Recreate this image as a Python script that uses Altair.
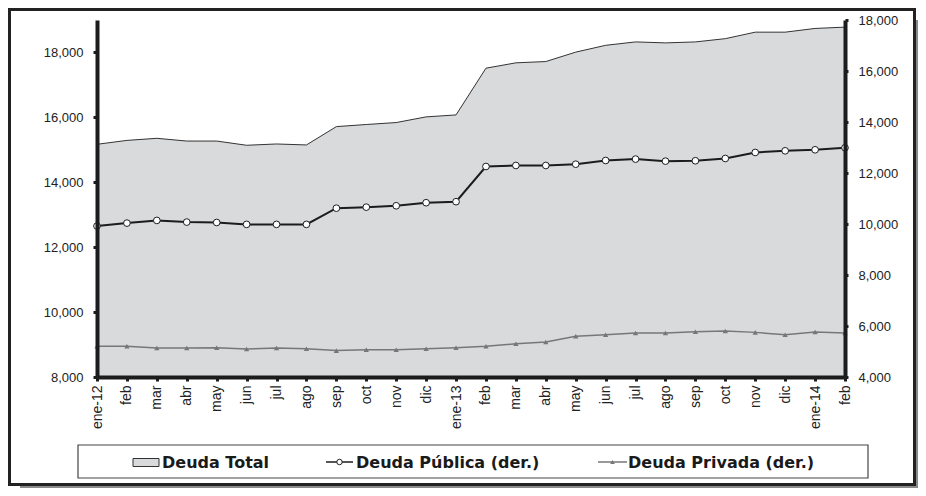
import json
import altair as alt
import pandas as pd

# ---- data ----
labels = ["ene-12", "feb", "mar", "abr", "may", "jun", "jul", "ago", "sep", "oct", "nov", "dic",
          "ene-13", "feb", "mar", "abr", "may", "jun", "jul", "ago", "sep", "oct", "nov", "dic",
          "ene-14", "feb"]
deuda_total = [15170, 15290, 15355, 15270, 15270, 15140, 15180, 15150, 15715, 15780, 15840, 16015,
               16075, 17515, 17680, 17720, 18010, 18220, 18325, 18295, 18325, 18425, 18625, 18625,
               18740, 18780]
deuda_publica = [9920, 10035, 10140, 10075, 10060, 9985, 9985, 9985, 10620, 10660, 10715, 10835,
                 10875, 12255, 12295, 12295, 12345, 12490, 12545, 12465, 12480, 12570, 12805, 12870,
                 12910, 12990]
deuda_privada = [5205, 5205, 5135, 5135, 5150, 5100, 5135, 5110, 5035, 5070, 5070, 5110,
                 5150, 5205, 5305, 5370, 5595, 5660, 5725, 5725, 5775, 5805, 5750, 5660,
                 5765, 5725]
legend_labels = ["Deuda Total", "Deuda Pública (der.)", "Deuda Privada (der.)"]
left_ticks = [8000, 10000, 12000, 14000, 16000, 18000]
right_ticks = [4000, 6000, 8000, 10000, 12000, 14000, 16000, 18000]

df = pd.DataFrame({
    "i": list(range(len(labels))),
    "total": deuda_total,
    "publica": deuda_publica,
    "privada": deuda_privada,
})

DARK = "#1c1c1c"
GRAY = "#777777"
AREA = "#d9dadc"
LABEL_FONT = "Liberation Sans, Arial, sans-serif"
XLABEL_FONT = "Liberation Sans Narrow, Arial Narrow, Liberation Sans, sans-serif"
LEGEND_FONT = "DejaVu Sans"

label_expr = json.dumps(labels) + "[datum.value]"


def x_enc():
    return alt.X(
        "i:Q",
        scale=alt.Scale(domain=[0, len(labels) - 1], nice=False, zero=False),
        axis=alt.Axis(
            values=list(range(len(labels))), labelExpr=label_expr, labelAngle=-90,
            title=None, grid=False, domainWidth=4, domainColor=DARK, tickColor=DARK,
            tickWidth=3, tickSize=4, labelFont=XLABEL_FONT, labelFontSize=14,
            labelColor="#222222", labelPadding=4, labelOverlap=False, orient="bottom",
            zindex=1,
        ),
    )


base = alt.Chart(df)

area = base.mark_area(color=AREA, opacity=1, clip=True,
                      line={"color": "#333333", "strokeWidth": 1}).encode(
    x=x_enc(),
    y=alt.Y("total:Q", scale=alt.Scale(domain=[8000, 19000], nice=False, zero=False),
            axis=alt.Axis(orient="left", values=left_ticks, format=",d", title=None, grid=False,
                          domainWidth=4, domainColor=DARK, tickColor=DARK, tickWidth=3, tickSize=4,
                          labelFont=LABEL_FONT, labelFontSize=13, labelColor="#222222",
                          labelPadding=10, zindex=1)),
)

right_scale = alt.Scale(domain=[4000, 18000], nice=False, zero=False)

privada = base.mark_line(
    color=GRAY, strokeWidth=1.5,
    point=alt.OverlayMarkDef(shape="triangle-up", size=28, filled=True, color=GRAY),
).encode(
    x=x_enc(),
    y=alt.Y("privada:Q", scale=right_scale, axis=None),
)

publica = base.mark_line(
    color=DARK, strokeWidth=2,
    point=alt.OverlayMarkDef(shape="circle", size=45, filled=True, fill="white", stroke=DARK,
                             strokeWidth=1),
).encode(
    x=x_enc(),
    y=alt.Y("publica:Q", scale=right_scale,
            axis=alt.Axis(orient="right", values=right_ticks, format=",d", title=None, grid=False,
                          domainWidth=4, domainColor=DARK, tickColor=DARK, tickWidth=3, tickSize=3,
                          labelFont=LABEL_FONT, labelFontSize=13, labelColor="#222222",
                          labelPadding=10, zindex=1)),
)

one = alt.Chart(pd.DataFrame({"k": [0]}))

# outer frame and shadow
frame = one.mark_rect(fillOpacity=0, stroke="#222222", strokeWidth=3).encode(
    x=alt.value(-87.5), x2=alt.value(817.5), y=alt.value(-10.5), y2=alt.value(464.5))
shadow_r = one.mark_rect(color="#8a8a8a").encode(
    x=alt.value(819), x2=alt.value(821), y=alt.value(0), y2=alt.value(468))
shadow_b = one.mark_rect(color="#8a8a8a").encode(
    x=alt.value(-77), x2=alt.value(821), y=alt.value(466), y2=alt.value(468))

# legend
leg_box = one.mark_rect(fill="white", stroke="#444444", strokeWidth=1.2).encode(
    x=alt.value(-19), x2=alt.value(771), y=alt.value(425), y2=alt.value(458))
leg_sym_total = one.mark_rect(fill=AREA, stroke="#333333", strokeWidth=1).encode(
    x=alt.value(36), x2=alt.value(62), y=alt.value(438.5), y2=alt.value(446.5))
leg_line_pub = one.mark_rule(color=DARK, strokeWidth=1.5).encode(
    x=alt.value(229), x2=alt.value(256), y=alt.value(442))
leg_pt_pub = one.mark_point(shape="circle", size=30, filled=True, fill="white", stroke=DARK,
                            strokeWidth=1, opacity=1).encode(x=alt.value(242.5), y=alt.value(442))
leg_line_priv = one.mark_rule(color=GRAY, strokeWidth=1.5).encode(
    x=alt.value(501), x2=alt.value(530), y=alt.value(442))
leg_pt_priv = one.mark_point(shape="triangle-up", size=22, filled=True, color=GRAY,
                             opacity=1).encode(x=alt.value(515.5), y=alt.value(442))

leg_texts = []
for lab, xpos in zip(legend_labels, [65, 259, 531]):
    leg_texts.append(
        alt.Chart(pd.DataFrame({"label": [lab]})).mark_text(
            font=LEGEND_FONT, fontSize=16, fontWeight="bold", align="left", baseline="alphabetic",
            color="#1a1a1a",
        ).encode(x=alt.value(xpos), y=alt.value(447.5), text="label:N")
    )

chart = alt.layer(
    frame, shadow_r, shadow_b, area, privada, publica,
    leg_box, leg_sym_total, leg_line_pub, leg_pt_pub, leg_line_priv, leg_pt_priv, *leg_texts,
).resolve_scale(y="independent").properties(
    width=748, height=357,
    padding={"left": 89, "top": 12, "right": 73, "bottom": 111},
    autosize=alt.AutoSizeParams(type="none"),
    background="white",
).configure_view(stroke=None)

chart.save("out.html", embed_options={"renderer": "svg", "actions": False})
